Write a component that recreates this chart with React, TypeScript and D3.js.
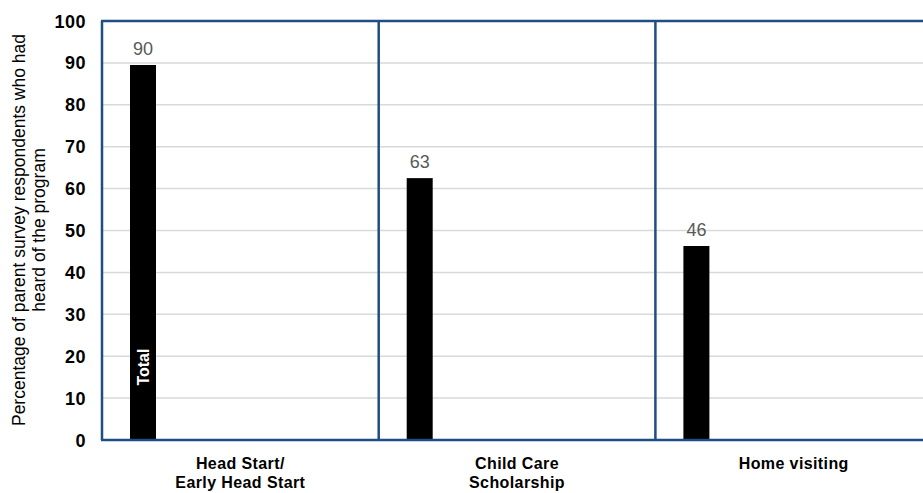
import React from "react";
import * as d3 from "d3";

const categories = ["Head Start/\nEarly Head Start", "Child Care\nScholarship", "Home visiting"];
const values = [89.5, 62.5, 46.3];
const valueLabels = ["90", "63", "46"];
const yTicks = [0, 10, 20, 30, 40, 50, 60, 70, 80, 90, 100];
const yTitle = ["Percentage of parent survey respondents who had", "heard of the program"];
const seriesName = "Total";

const W = 923, H = 493;
const left = 102, top = 21, bottom = 440, panelW = 276.7;
const border = "#1F4E85";

export default function App() {
  const y = d3.scaleLinear().domain([0, 100]).range([bottom, top]);
  const x = d3.scaleBand().domain(categories).range([left, left + panelW * 3]).paddingInner(0).paddingOuter(0);
  const barOff = 28, barW = 26;
  const font = "'Liberation Sans', Arial, sans-serif";
  return (
    <svg width={W} height={H} style={{ position: "absolute", left: 0, top: 0 }} fontFamily={font}>
      <rect width={W} height={H} fill="#fff" />
      {yTicks.filter(t => t > 0).map(t => (
        <line key={t} x1={left} x2={W} y1={y(t)} y2={y(t)} stroke="#d9d9d9" strokeWidth={1.5} />
      ))}
      {categories.map((c, i) => {
        const x0 = x(c)!;
        const bh = bottom - y(values[i]);
        return (
          <g key={c}>
            <rect x={x0 + barOff} y={y(values[i])} width={barW} height={bh} fill="#000" />
            <text x={x0 + barOff + barW / 2} y={y(values[i]) - 10} textAnchor="middle" fontSize={18} fill="#595959">{valueLabels[i]}</text>
            {i === 0 && (
              <text transform={`translate(${x0 + barOff + barW / 2 + 6},${y(17.4)}) rotate(-90)`} textAnchor="middle" fontSize={16} fontWeight="bold" fill="#fff">{seriesName}</text>
            )}
            {c.split("\n").map((ln, j) => (
              <text key={j} x={x0 + x.bandwidth() / 2} y={469 + j * 19} textAnchor="middle" fontSize={16} fontWeight="bold" letterSpacing={0.4} fill="#000">{ln}</text>
            ))}
          </g>
        );
      })}
      {categories.map((c) => (
        <line key={c} x1={x(c)!} x2={x(c)!} y1={top} y2={bottom} stroke={border} strokeWidth={2.5} />
      ))}
      <line x1={left - 1} x2={W} y1={top} y2={top} stroke={border} strokeWidth={2.5} />
      <line x1={left - 1} x2={W} y1={bottom} y2={bottom} stroke={border} strokeWidth={2.5} />
      {yTicks.map(t => (
        <text key={t} x={86} y={y(t) + 6.5} textAnchor="end" fontSize={18} fontWeight="bold" letterSpacing={0.5} fill="#000">{t}</text>
      ))}
      {yTitle.map((ln, j) => (
        <text key={j} transform={`translate(${25 + j * 20},${230}) rotate(-90)`} textAnchor="middle" fontSize={17.5} fill="#000">{ln}</text>
      ))}
    </svg>
  );
}
